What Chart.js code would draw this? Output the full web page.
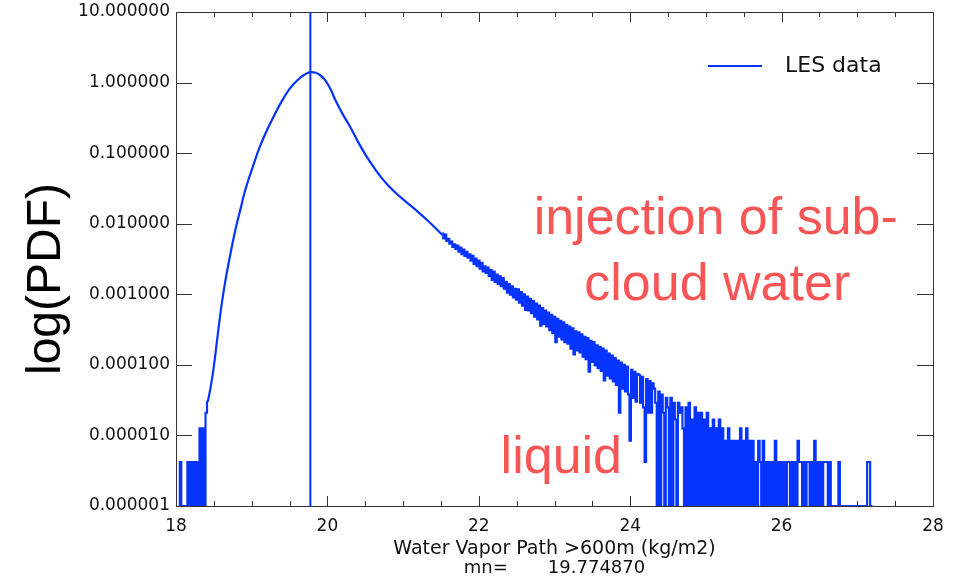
<!DOCTYPE html>
<html>
<head>
<meta charset="utf-8">
<title>LES water vapor path PDF</title>
<script src="https://cdn.jsdelivr.net/npm/chart.js@4.4.1/dist/chart.umd.min.js"></script>
<style>
  html, body { margin: 0; padding: 0; background: #ffffff; }
  #wrap { width: 967px; height: 581px; }
</style>
</head>
<body>
<div id="wrap"><canvas id="chart" width="967" height="581"></canvas></div>
<script>
// ---------------- data ----------------
const xMin = 18, xMax = 28, xMinorStep = 0.5;
const yMin = 1e-6, yMax = 10;
const xTickValues = [18, 20, 22, 24, 26, 28];
const xTickLabels = ['18', '20', '22', '24', '26', '28'];
const yTickValues = [10, 1, 0.1, 0.01, 0.001, 0.0001, 0.00001, 0.000001];
const yTickLabels = ['10.000000', '1.000000', '0.100000', '0.010000', '0.001000', '0.000100', '0.000010', '0.000001'];

const seriesLabel = 'LES data';
const meanWvp = 19.774870;
const xTitle = 'Water Vapor Path >600m (kg/m2)';
const xSubTitle = 'mn=       19.774870';
const yTitle = 'log(PDF)';
const noteLines = ['injection of sub-', 'cloud water', 'liquid'];

const binWidth = 0.02;

// sparse low-count bins on the dry side (bins of 0.02 starting at 18.04)
const lowBinStart = 18.04;
const lowPdf = [
  0, 4.2e-6, 0, 0, 0, 0, 4.2e-6, 0, 4.2e-6, 0,
  4.2e-6, 0, 4.2e-6, 0, 1.26e-5, 0, 1.26e-5, 0, 2.1e-5, 3.0e-5
];

// well-sampled body of the distribution
const mainWvp = [
  18.42, 18.46, 18.50, 18.55, 18.60, 18.65, 18.70, 18.75, 18.80, 18.85,
  18.90, 18.95, 19.00, 19.05, 19.10, 19.20, 19.30, 19.40, 19.50, 19.60,
  19.70, 19.78, 19.85, 19.90, 19.95, 20.00, 20.05, 20.10, 20.20, 20.30,
  20.40, 20.50, 20.60, 20.70, 20.80, 20.90, 21.00, 21.10, 21.20, 21.30,
  21.40, 21.52
];
const mainPdf = [
  3.0e-5, 5.0e-5, 9.5e-5, 2.6e-4, 6.8e-4, 1.51e-3, 2.95e-3, 5.5e-3, 9.7e-3, 0.0158,
  0.0263, 0.0398, 0.0575, 0.0832, 0.1175, 0.209, 0.347, 0.55, 0.813, 1.07,
  1.30, 1.41, 1.38, 1.28, 1.15, 0.97, 0.77, 0.58, 0.36, 0.237,
  0.148, 0.096, 0.066, 0.0468, 0.0351, 0.0275, 0.0221, 0.0180, 0.0146, 0.0117,
  0.0093, 0.0069
];

// noisy moist tail (bins of 0.02 starting at 21.52)
const tailBinStart = 21.52;
const tailPdf = [
  0.0073, 0.0062, 0.0070, 0.0057, 0.0061, 0.0052, 0.0056, 0.0047, 0.0051, 0.0044,
  0.0049, 0.0040, 0.0046, 0.0037, 0.0043, 0.0035, 0.0040, 0.0033, 0.0037, 0.0030,
  0.0035, 0.0027, 0.0032, 0.0025, 0.0030, 0.0023, 0.0028, 0.0021, 0.0025, 0.0020,
  0.0024, 0.0018, 0.0022, 0.0016, 0.0021, 0.0015, 0.0019, 0.0014, 0.0018, 0.0013,
  0.0017, 0.0012, 0.0015, 0.00105, 0.0014, 0.00099, 0.0013, 0.00090, 0.0012, 0.00084,
  0.00118, 0.00076, 0.00108, 0.00069, 0.00100, 0.00060, 0.00093, 0.00059, 0.00086, 0.00054,
  0.00080, 0.00048, 0.00074, 0.00044, 0.00069, 0.00036, 0.00064, 0.00038, 0.00059, 0.00035,
  0.00055, 0.00031, 0.00051, 0.00028, 0.00048, 0.00021, 0.00045, 0.00025, 0.00042, 0.00023,
  0.00040, 0.00021, 0.00037, 0.00020, 0.00035, 0.00017, 0.00033, 0.00014, 0.00030, 0.00016,
  0.00029, 0.00015, 0.00027, 0.00013, 0.00025, 0.00012, 0.00024, 8.0e-5, 0.00022, 0.00011,
  0.00021, 9.8e-5, 0.00019, 9.0e-5, 0.00018, 8.2e-5, 0.00017, 6.0e-5, 0.00016, 7.0e-5,
  1.45e-4, 6.4e-5, 1.35e-4, 5.8e-5, 1.25e-4, 5.2e-5, 1.15e-4, 2.1e-5, 1.08e-4, 4.6e-5,
  1.0e-4, 4.2e-5, 9.5e-5, 3.8e-5, 8.4e-6, 8.5e-5, 3.4e-5, 8.0e-5, 3.0e-5, 7.4e-5,
  7.2e-5, 2.9e-5, 6.8e-5, 2.5e-5, 4.2e-6, 6.3e-5, 2.1e-5, 5.9e-5, 2.1e-5, 5.5e-5,
  4.6e-5, 2.9e-5, 0, 4.2e-5, 0, 3.8e-5, 2.1e-5, 0, 3.4e-5, 2.5e-5,
  0, 3.4e-5, 0, 2.9e-5, 1.68e-5, 0, 2.9e-5, 2.1e-5, 2.5e-5, 1.26e-5,
  0, 2.5e-5, 0, 2.9e-5, 0, 1.68e-5, 0, 2.5e-5, 0, 2.1e-5,
  0, 2.1e-5, 0, 1.68e-5, 0, 2.1e-5, 0, 1.26e-5, 0, 1.68e-5,
  0, 1.26e-5, 0, 1.68e-5, 0, 1.26e-5, 0, 8.4e-6, 0, 1.26e-5,
  0, 8.4e-6, 0, 8.4e-6, 0, 8.4e-6, 0, 1.26e-5, 0, 8.4e-6,
  0, 1.26e-5, 0, 8.4e-6, 0, 8.4e-6, 0, 4.2e-6, 0, 8.4e-6,
  4.2e-6, 0, 8.4e-6, 0, 4.2e-6, 0, 4.2e-6, 0, 4.2e-6, 0,
  8.4e-6, 0, 4.2e-6, 0, 4.2e-6, 0, 4.2e-6, 0, 4.2e-6, 4.2e-6,
  0, 4.2e-6, 0, 4.2e-6, 0, 8.4e-6, 4.2e-6, 4.2e-6, 0, 4.2e-6,
  0, 4.2e-6, 4.2e-6, 0, 4.2e-6, 0, 8.4e-6, 0, 4.2e-6, 0,
  4.2e-6, 0, 4.2e-6, 4.2e-6, 4.2e-6, 0, 4.2e-6, 0, 0, 0,
  0, 0, 4.2e-6, 0, 0, 0, 0, 0, 0, 0,
  0, 0, 0, 0, 0, 0, 0, 0, 0, 0,
  0, 4.2e-6, 4.2e-6, 0, 0
];

// ---------------- build points (empty bins sit on the axis floor) ----------------
const floorVal = v => (v > 0 ? v : yMin);
const binPoints = (start, arr) => arr.map((v, i) => ({ x: +(start + i * binWidth).toFixed(2), y: floorVal(v) }));
const lowPoints = binPoints(lowBinStart, lowPdf);
const tailPoints = binPoints(tailBinStart, tailPdf);
const mainPoints = mainWvp.map((x, i) => ({ x, y: mainPdf[i] }));
const meanPoints = [{ x: meanWvp, y: yMin }, { x: meanWvp, y: yMax }];

// ---------------- styles ----------------
const BLUE = '#0533ff';
const RED = '#f85656';
const AXIS = '#333333';
const TICK_FONT = 'DejaVu Sans';

// frame with inward ticks on all four sides
const framePlugin = {
  id: 'frame',
  beforeDatasetsDraw(chart) {
    const { ctx, chartArea: a, scales: { x, y } } = chart;
    ctx.save();
    ctx.strokeStyle = AXIS;
    ctx.lineWidth = 1;
    ctx.beginPath();
    x.ticks.forEach(t => {
      const px = Math.round(x.getPixelForValue(t.value)) + 0.5;
      const len = xTickValues.includes(t.value) ? 10 : 5;
      ctx.moveTo(px, a.bottom); ctx.lineTo(px, a.bottom - len);
      ctx.moveTo(px, a.top); ctx.lineTo(px, a.top + len);
    });
    y.ticks.forEach(t => {
      const py = Math.round(y.getPixelForValue(t.value)) + 0.5;
      ctx.moveTo(a.left, py); ctx.lineTo(a.left + 16, py);
      ctx.moveTo(a.right, py); ctx.lineTo(a.right - 16, py);
    });
    ctx.stroke();
    ctx.strokeRect(Math.round(a.left) + 0.5, Math.round(a.top) + 0.5,
                   Math.round(a.right - a.left), Math.round(a.bottom - a.top));
    ctx.restore();
  }
};

// axis titles, legend and annotations
const textPlugin = {
  id: 'texts',
  afterDraw(chart) {
    const { ctx, chartArea: a, scales: { x, y } } = chart;
    ctx.save();
    // y title
    ctx.fillStyle = '#000';
    ctx.font = '48px "Liberation Sans", Arial, sans-serif';
    ctx.textAlign = 'center';
    ctx.textBaseline = 'middle';
    ctx.translate(a.left - 129, (a.top + a.bottom) / 2 + 20);
    ctx.rotate(-Math.PI / 2);
    ctx.fillText(yTitle, 0, 0);
    ctx.restore();

    ctx.save();
    // x title (two lines)
    const cx = (a.left + a.right) / 2;
    ctx.fillStyle = '#111';
    ctx.textAlign = 'center';
    ctx.textBaseline = 'alphabetic';
    ctx.font = '19px "' + TICK_FONT + '", sans-serif';
    ctx.fillText(xTitle, cx, a.bottom + 48);
    ctx.font = '18px "' + TICK_FONT + '", sans-serif';
    ctx.fillText(xSubTitle, cx, a.bottom + 67);

    // legend inside plot
    const ds = chart.data.datasets[0];
    const ly = a.top + 54;
    ctx.strokeStyle = ds.borderColor;
    ctx.lineWidth = 2;
    ctx.beginPath();
    ctx.moveTo(a.right - 225, ly);
    ctx.lineTo(a.right - 171, ly);
    ctx.stroke();
    ctx.font = '22px "' + TICK_FONT + '", sans-serif';
    ctx.textAlign = 'left';
    ctx.fillText(ds.label, a.right - 148, ly + 6);

    // red annotations anchored in data space
    ctx.fillStyle = RED;
    ctx.font = '52px "Liberation Sans", Arial, sans-serif';
    ctx.textAlign = 'center';
    ctx.fillText(noteLines[0], x.getPixelForValue(25.13), y.getPixelForValue(0.0072));
    ctx.fillText(noteLines[1], x.getPixelForValue(25.15), y.getPixelForValue(0.00083));
    ctx.fillText(noteLines[2], x.getPixelForValue(23.09), y.getPixelForValue(2.9e-6));
    ctx.restore();
  }
};

const common = { borderColor: BLUE, pointRadius: 0, pointHoverRadius: 0, fill: false };

new Chart(document.getElementById('chart'), {
  type: 'line',
  data: {
    datasets: [
      { ...common, label: seriesLabel, data: mainPoints, borderWidth: 2.2, tension: 0.4, cubicInterpolationMode: 'monotone' },
      { ...common, label: seriesLabel, data: lowPoints, borderWidth: 2.1, stepped: 'middle' },
      { ...common, label: seriesLabel, data: tailPoints, borderWidth: 2.1, stepped: 'middle' },
      { ...common, label: 'mean', data: meanPoints, borderWidth: 2 }
    ]
  },
  options: {
    responsive: false,
    animation: false,
    devicePixelRatio: 1,
    events: [],
    layout: { padding: { top: 12, right: 34, left: 0, bottom: 0 } },
    plugins: { legend: { display: false }, tooltip: { enabled: false } },
    scales: {
      x: {
        type: 'linear', min: xMin, max: xMax,
        grid: { display: false, drawTicks: false },
        border: { display: false },
        afterFit: s => { s.height = 75; s.paddingLeft = 0; s.paddingRight = 0; },
        afterBuildTicks: s => {
          const t = [];
          for (let v = xMin; v <= xMax + 1e-9; v += xMinorStep) t.push({ value: Math.round(v * 10) / 10 });
          s.ticks = t;
        },
        ticks: {
          autoSkip: false, maxRotation: 0, padding: 10,
          color: '#111', font: { family: TICK_FONT, size: 17 },
          callback: v => { const i = xTickValues.indexOf(v); return i >= 0 ? xTickLabels[i] : ''; }
        }
      },
      y: {
        type: 'logarithmic', min: yMin, max: yMax,
        grid: { display: false, drawTicks: false },
        border: { display: false },
        afterFit: s => { s.width = 176; s.paddingTop = 0; s.paddingBottom = 0; },
        afterBuildTicks: s => { s.ticks = yTickValues.map(v => ({ value: v })); },
        ticks: {
          autoSkip: false, padding: 6,
          color: '#111', font: { family: TICK_FONT, size: 17 },
          callback: v => { const i = yTickValues.indexOf(v); return i >= 0 ? yTickLabels[i] : ''; }
        }
      }
    }
  },
  plugins: [framePlugin, textPlugin]
});
</script>
</body>
</html>
